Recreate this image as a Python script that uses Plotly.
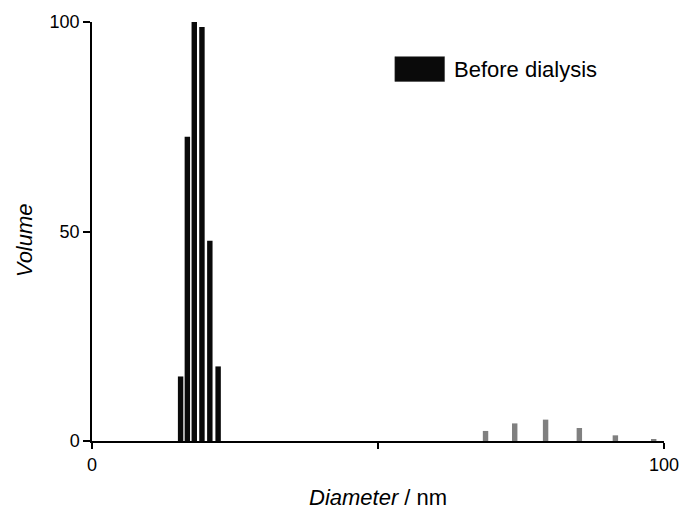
import plotly.graph_objects as go

# Particle size distribution (volume-weighted), diameters in nm
before_diam = [15.49, 16.67, 17.88, 19.22, 20.60, 22.05]
before_vol = [15.4, 72.6, 100.0, 98.8, 47.8, 17.8]

after_diam = [68.8, 73.9, 79.3, 85.2, 91.5, 98.2]
after_vol = [2.4, 4.2, 5.1, 3.1, 1.35, 0.3]

x_ticks = [0, 50, 100]
x_ticktext = ["0", "", "100"]
y_ticks = [0, 50, 100]

legend_label = "Before dialysis"

FONT = "Liberation Sans, Arial, sans-serif"

fig = go.Figure()
fig.add_trace(go.Bar(
    x=before_diam, y=before_vol, width=[0.95] * len(before_diam),
    marker=dict(color="#0a0a0a", line=dict(width=0)),
    name=legend_label, showlegend=False,
))
fig.add_trace(go.Bar(
    x=after_diam, y=after_vol, width=[0.95] * len(after_diam),
    marker=dict(color="#808080", line=dict(width=0)),
    showlegend=False,
))

fig.update_layout(
    width=691, height=517,
    margin=dict(l=92, r=23, t=18, b=76),
    paper_bgcolor="white", plot_bgcolor="white",
    font=dict(family=FONT, size=18, color="black"),
    barmode="overlay",
    xaxis=dict(
        range=[0, 100], showgrid=False, zeroline=False,
        showline=True, linecolor="black", linewidth=2,
        ticks="outside", ticklen=6, tickwidth=1.5, tickcolor="black",
        tickvals=x_ticks, ticktext=x_ticktext,
        tickfont=dict(size=18),
    ),
    yaxis=dict(
        range=[0, 100], showgrid=False, zeroline=False,
        showline=True, linecolor="black", linewidth=1.5,
        ticks="outside", ticklen=7, tickwidth=1.5, tickcolor="black",
        tickvals=y_ticks, tickfont=dict(size=18),
    ),
)

# Legend key: filled box plus label
fig.add_shape(
    type="rect", xref="paper", yref="paper",
    x0=0.5295, x1=0.6163, y0=0.8582, y1=0.9173,
    fillcolor="#0a0a0a", line=dict(width=0.5, color="#333333"),
)
fig.add_annotation(
    xref="paper", yref="paper", x=0.6285, y=0.8877,
    text=legend_label, showarrow=False,
    xanchor="left", yanchor="middle",
    font=dict(size=22, family=FONT),
)

# Axis titles
fig.add_annotation(
    xref="paper", yref="paper", x=0.5, y=-0.135,
    text="<i>Diameter</i> / nm", showarrow=False,
    xanchor="center", yanchor="middle",
    font=dict(size=22, family=FONT),
)
fig.add_annotation(
    xref="paper", yref="paper", x=-0.118, y=0.478,
    text="<i>Volume</i>", showarrow=False, textangle=-90,
    xanchor="center", yanchor="middle",
    font=dict(size=22, family=FONT),
)

fig.write_html("out.html")
